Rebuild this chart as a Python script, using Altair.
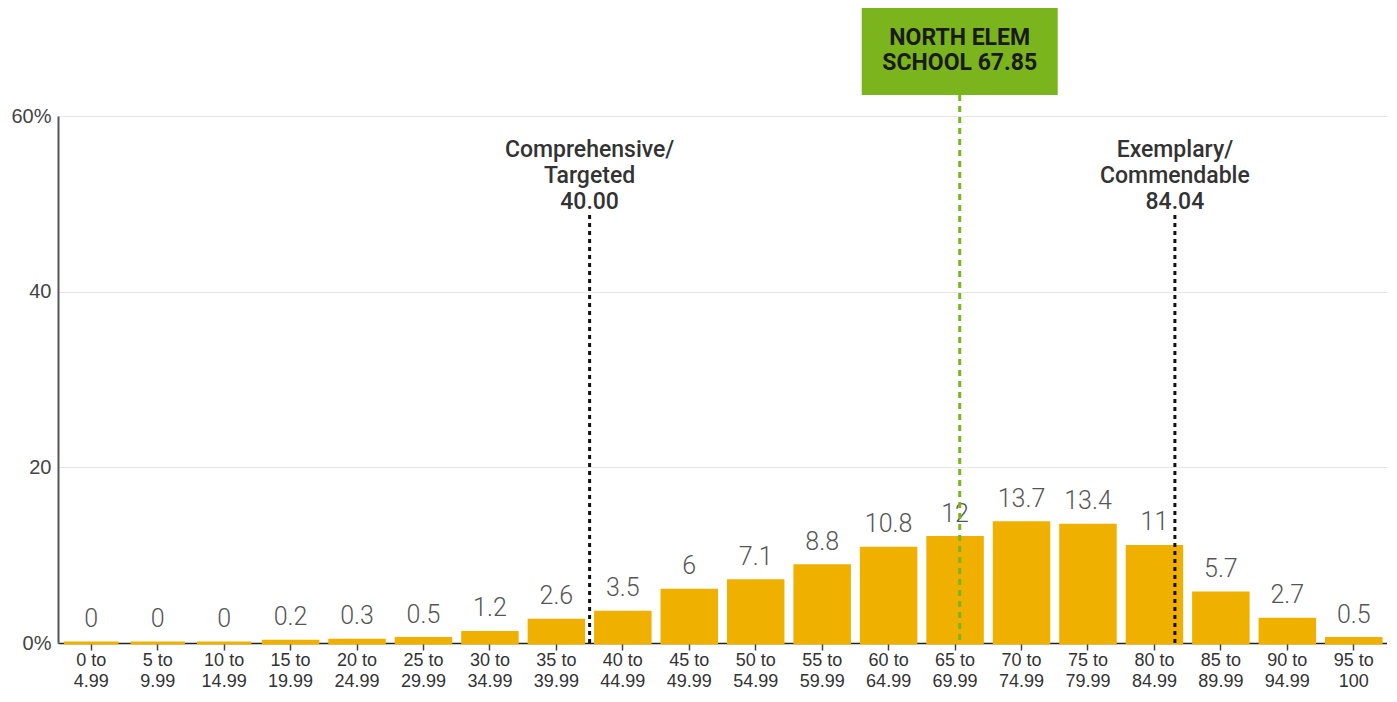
import altair as alt
import pandas as pd

# ---- data ----
bins = ["0 to|4.99", "5 to|9.99", "10 to|14.99", "15 to|19.99", "20 to|24.99",
        "25 to|29.99", "30 to|34.99", "35 to|39.99", "40 to|44.99", "45 to|49.99",
        "50 to|54.99", "55 to|59.99", "60 to|64.99", "65 to|69.99", "70 to|74.99",
        "75 to|79.99", "80 to|84.99", "85 to|89.99", "90 to|94.99", "95 to|100"]
values = [0, 0, 0, 0.2, 0.3, 0.5, 1.2, 2.6, 3.5, 6, 7.1, 8.8, 10.8, 12, 13.7,
          13.4, 11, 5.7, 2.7, 0.5]
cut_names = ["Comprehensive/|Targeted|40.00", "Exemplary/|Commendable|84.04"]
cut_values = [40.00, 84.04]
school_name = ["NORTH ELEM|SCHOOL 67.85"]
school_value = [67.85]
y_ticks = [0, 20, 40, 60]

# ---- layout / style ----
W, H = 1329, 527
GOLD = "#F0B000"
GREEN = "#7AB51D"
BOX_W = 196
box_half = (BOX_W / 2) * 100 / W  # half box width in score units

df = pd.DataFrame({"bin": bins, "value": values})
cuts = pd.DataFrame({"label": cut_names, "score": cut_values})
school = pd.DataFrame({"label": school_name, "score": school_value})

xband = alt.Scale(domain=bins, paddingInner=0.18, paddingOuter=0.09)
xlin = alt.Scale(domain=[0, 100], nice=False, zero=False)
yscale = alt.Scale(domain=[0, 60], nice=False)

bars = alt.Chart(df).mark_bar(color=GOLD, stroke=GOLD, strokeWidth=3).encode(
    x=alt.X("bin:N", scale=xband, sort=None, title=None,
            axis=alt.Axis(labelExpr="split(datum.label, '|')", labelAngle=0,
                          labelFont="Liberation Sans", labelFontSize=18,
                          labelColor="#333", labelLineHeight=21, labelPadding=1,
                          domainColor="#222", domainWidth=1.5,
                          tickColor="#444", tickSize=7, tickWidth=1.5,
                          grid=False)),
    y=alt.Y("value:Q", scale=yscale, title=None,
            axis=alt.Axis(values=y_ticks,
                          labelExpr="datum.value == 0 || datum.value == 60 ? datum.value + '%' : datum.label",
                          labelFont="Liberation Sans", labelFontSize=20,
                          labelColor="#444", labelPadding=7, ticks=False,
                          domainColor="#555", domainWidth=2,
                          grid=True, gridColor="#e6e6e6", gridWidth=1)),
)

bar_labels = alt.Chart(df).mark_text(
    baseline="bottom", dy=-11, fontSize=25, font="Roboto", fontWeight=300,
    color="#555").encode(
    x=alt.X("bin:N", scale=xband, sort=None, axis=None),
    y=alt.Y("value:Q", scale=yscale),
    text=alt.Text("value:Q", format=".3~g"),
)

cut_rules = alt.Chart(cuts).mark_rule(
    color="#111", strokeWidth=3, strokeDash=[4, 4]).encode(
    x=alt.X("score:Q", scale=xlin, axis=None),
    y=alt.value(99), y2=alt.value(H),
)

cut_text = alt.Chart(cuts).mark_text(
    lineBreak="|", baseline="middle", align="center", fontSize=23,
    font="Roboto", fontWeight=500, color="#333", lineHeight=26).encode(
    x=alt.X("score:Q", scale=xlin, axis=None),
    y=alt.value(34),
    text="label:N",
)

school_rule = alt.Chart(school).mark_rule(
    color=GREEN, strokeWidth=3, strokeDash=[6, 5]).encode(
    x=alt.X("score:Q", scale=xlin, axis=None),
    y=alt.value(-21), y2=alt.value(H),
)

school_box = alt.Chart(school).transform_calculate(
    lo=f"datum.score - {box_half}", hi=f"datum.score + {box_half}"
).mark_rect(color=GREEN).encode(
    x=alt.X("lo:Q", scale=xlin, axis=None),
    x2="hi:Q",
    y=alt.value(-108), y2=alt.value(-21),
)

school_text = alt.Chart(school).mark_text(
    lineBreak="|", baseline="middle", align="center", fontSize=23,
    font="Roboto", fontWeight=700, color="#1a1a1a", lineHeight=25).encode(
    x=alt.X("score:Q", scale=xlin, axis=None),
    y=alt.value(-78),
    text="label:N",
)

chart = alt.layer(
    bars, bar_labels, cut_rules, cut_text, school_rule, school_box, school_text
).resolve_scale(x="independent").properties(
    width=W, height=H,
    autosize=alt.AutoSizeParams(type="none"),
    padding={"left": 50, "top": 108, "right": 0, "bottom": 50},
).configure_view(stroke=None).configure(background="white")

chart.save("out.html", embed_options={"renderer": "svg", "actions": False})
